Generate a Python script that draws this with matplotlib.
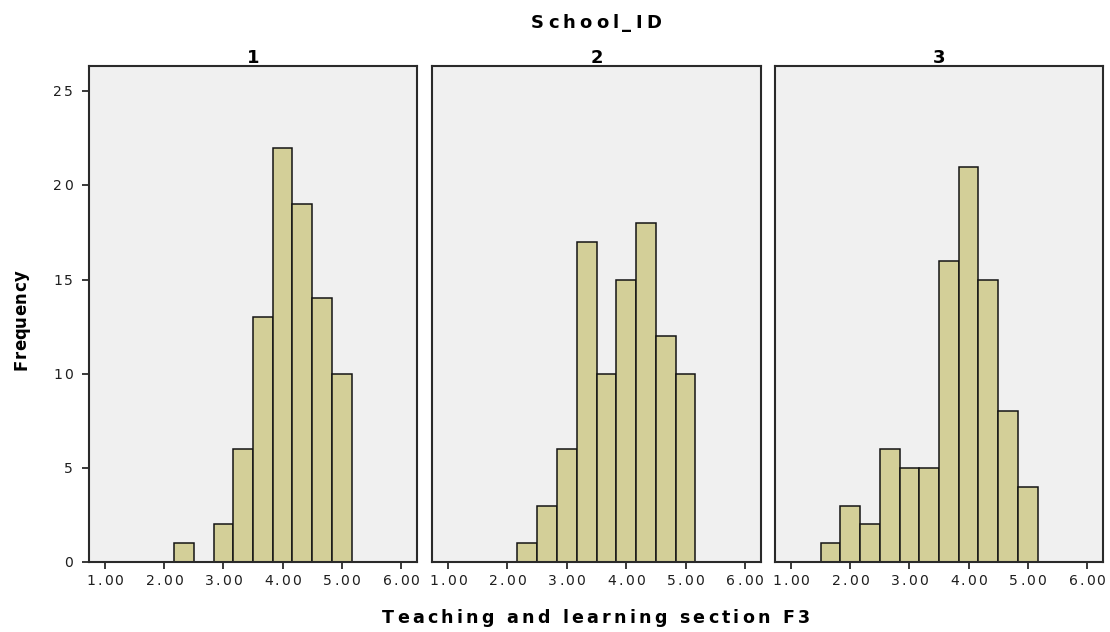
import matplotlib
matplotlib.use("Agg")
import matplotlib.pyplot as plt
from matplotlib.font_manager import FontProperties, findfont
from matplotlib.ft2font import FT2Font
from matplotlib.transforms import IdentityTransform

# Histogram counts per school, bins of width 1/3 starting at 1.5
schools = ["1", "2", "3"]
bin_start = 1.5
bin_width = 1.0 / 3.0
school1 = [0, 0, 1, 0, 2, 6, 13, 22, 19, 14, 10]
school2 = [0, 0, 1, 3, 6, 17, 10, 15, 18, 12, 10]
school3 = [1, 3, 2, 6, 5, 5, 16, 21, 15, 8, 4]
counts = [school1, school2, school3]

x_ticks = [1, 2, 3, 4, 5, 6]
x_tick_labels = ["1.00", "2.00", "3.00", "4.00", "5.00", "6.00"]
y_ticks = [0, 5, 10, 15, 20, 25]
y_tick_labels = ["0", "5", "10", "15", "20", "25"]

panel_title = "School_ID"
x_label = "Teaching and learning section F3"
y_label = "Frequency"

W, H = 1110, 632
BAR = "#d3cf98"
PANEL_BG = "#f0f0f0"
INK = "#1e1e1e"
FONT = "DejaVu Sans"

fig = plt.figure(figsize=(W / 100, H / 100), dpi=100)
fig.patch.set_facecolor("white")


def spaced_text(s, x, y, size_px, width_px=None, weight="normal",
                ha="center", rotation=0, color=INK):
    """Draw a string with even letter spacing, in display pixels."""
    prop = FontProperties(family=FONT, weight=weight)
    ft = FT2Font(findfont(prop), hinting_factor=1)
    ft.set_size(size_px, 72)
    adv = [ft.load_char(ord(c)).linearHoriAdvance / 65536.0 for c in s]
    natural = sum(adv)
    gap = 0.0
    if width_px is not None and len(s) > 1:
        gap = (width_px - natural) / (len(s) - 1)
    total = natural + gap * (len(s) - 1)
    ref = y if rotation else x
    if ha == "center":
        pos = ref - total / 2
    elif ha == "right":
        pos = ref - total
    else:
        pos = ref
    for c, a in zip(s, adv):
        if rotation:
            fig.text(x, pos, c, transform=IdentityTransform(), fontsize=size_px * 0.72,
                     family=FONT, weight=weight, color=color, rotation=90,
                     rotation_mode="anchor", ha="left", va="baseline")
        else:
            fig.text(pos, y, c, transform=IdentityTransform(), fontsize=size_px * 0.72,
                     family=FONT, weight=weight, color=color, ha="left", va="baseline")
        pos += a + gap


# Panel geometry in pixels (left, right); shared top and bottom
panels = [(89, 417), (432, 761), (775, 1103)]
top_px, bottom_px = 66, 562
xlim = (0.73, 6.27)
ylim = (0, 26.34)

edges = [bin_start + i * bin_width for i in range(len(school1))]

for i, (name, vals) in enumerate(zip(schools, counts)):
    left, right = panels[i]
    ax = fig.add_axes([left / W, 1 - bottom_px / H, (right - left) / W,
                       (bottom_px - top_px) / H])
    ax.set_facecolor(PANEL_BG)
    ax.bar(edges, vals, width=bin_width, align="edge", color=BAR,
           edgecolor="#141414", linewidth=1.1, zorder=2)
    ax.set_xlim(*xlim)
    ax.set_ylim(*ylim)
    for sp in ax.spines.values():
        sp.set_color("#2a2a2a")
        sp.set_linewidth(1.5)
    ax.set_xticks(x_ticks)
    ax.set_xticklabels([])
    ax.tick_params(axis="x", direction="out", length=5, width=1.3, color="#2a2a2a")
    if i == 0:
        ax.set_yticks(y_ticks)
        ax.set_yticklabels([])
        ax.tick_params(axis="y", direction="out", length=5, width=1.3, color="#2a2a2a")
    else:
        ax.set_yticks([])

    # tick labels
    for v, lab in zip(x_ticks, x_tick_labels):
        px, _ = ax.transData.transform((v, 0))
        spaced_text(lab, px, H - 585, 14, width_px=37)
    if i == 0:
        for v, lab in zip(y_ticks, y_tick_labels):
            _, py = ax.transData.transform((0, v))
            w = 20 if len(lab) == 2 else None
            spaced_text(lab, 73, py - 5, 14, width_px=w, ha="right")

    # panel heading
    spaced_text(name, (left + right) / 2, H - 63, 18, weight="bold", color="black")

spaced_text(panel_title, 596, H - 28, 18, width_px=130, weight="bold", color="black")
spaced_text(x_label, 596, H - 623, 17.5, width_px=428, weight="bold", color="black")
spaced_text(y_label, 26, 312, 16.5, width_px=100, weight="bold", ha="center",
            rotation=90, color="black")

fig.savefig("out.png", dpi=100)
